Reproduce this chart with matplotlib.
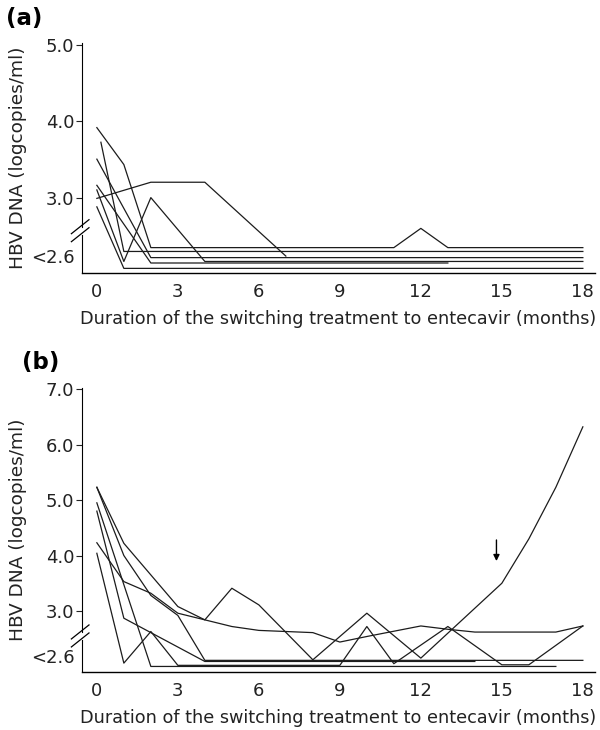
#Plot HBV DNA course after switching to entecavir, panels (a) and (b).
import matplotlib
matplotlib.use("Agg")
import matplotlib.pyplot as plt

# panel (a): months and HBV DNA values for each patient
a_months = [
    [0, 1, 2, 11, 12, 13, 18],
    [0.15, 1, 18],
    [0, 2, 18],
    [0, 2, 13],
    [0, 2, 4, 7],
    [0, 1, 18],
    [0, 1, 2, 4, 18],
]
a_values = [
    [3.92, 3.44, 2.36, 2.36, 2.61, 2.36, 2.36],
    [3.73, 2.31, 2.31],
    [3.51, 2.23, 2.23],
    [3.17, 2.16, 2.16],
    [3.00, 3.21, 3.21, 2.25],
    [2.89, 2.09, 2.09],
    [3.11, 2.18, 3.01, 2.18, 2.18],
]

# panel (b)
b_months = [
    [0, 1, 2, 3, 4, 5, 6, 8, 10, 12, 15, 16, 17, 18],
    [0, 1, 2, 3, 4, 18],
    [0, 2, 17],
    [0, 1, 4, 14],
    [0, 1, 2, 3, 4, 5, 6, 8, 9, 10, 12, 13, 14, 17, 18],
    [0, 1, 2, 3, 9, 10, 11, 13, 15, 16, 18],
]
b_values = [
    [5.23, 4.22, 3.65, 3.08, 2.84, 3.41, 3.11, 2.12, 2.96, 2.15, 3.50, 4.30, 5.23, 6.32],
    [5.23, 4.00, 3.28, 2.92, 2.11, 2.11],
    [4.95, 2.00, 2.00],
    [4.80, 2.87, 2.09, 2.09],
    [4.23, 3.53, 3.32, 2.96, 2.84, 2.72, 2.65, 2.61, 2.44, 2.54, 2.73, 2.67, 2.62, 2.62, 2.73],
    [4.04, 2.06, 2.63, 2.02, 2.02, 2.72, 2.05, 2.72, 2.03, 2.03, 2.73],
]

a_yticks = [2.25, 3.0, 4.0, 5.0]
a_ylabels = ["<2.6", "3.0", "4.0", "5.0"]
b_yticks = [2.18, 3.0, 4.0, 5.0, 6.0, 7.0]
b_ylabels = ["<2.6", "3.0", "4.0", "5.0", "6.0", "7.0"]
x_ticks = [0, 3, 6, 9, 12, 15, 18]

arrow_month = 14.8
arrow_from = 4.28
arrow_to = 3.90

FONT = "DejaVu Sans"
LINE_COLOR = "#1c1c1c"


def draw_panel(ax, months, values, yticks, ylabels, ylim, brk, h_px):
    for x, y in zip(months, values):
        ax.plot(x, y, color=LINE_COLOR, lw=0.9)

    ax.set_xlim(-0.55, 18.45)
    ax.set_ylim(*ylim)
    ax.set_xticks(x_ticks)
    ax.set_yticks(yticks)
    ax.set_yticklabels(ylabels)
    ax.tick_params(axis="x", length=0, pad=7, labelsize=13, colors="#222222")
    ax.tick_params(axis="y", length=4, width=0.8, pad=1.5, labelsize=13, colors="#222222")
    # no tick mark for the "<2.6" level
    ax.yaxis.get_major_ticks()[0].tick1line.set_visible(False)

    for s in ["top", "right"]:
        ax.spines[s].set_visible(False)
    ax.spines["bottom"].set_linewidth(1.0)

    # broken y axis
    ppu = h_px / (ylim[1] - ylim[0])
    gap_hi = brk + 3.5 / ppu
    gap_lo = brk - 4.5 / ppu
    ax.spines["left"].set_bounds(gap_hi, ylim[1])
    ax.spines["left"].set_linewidth(0.8)
    tr = ax.get_yaxis_transform()
    ax.plot([0, 0], [ylim[0], gap_lo], color="black", lw=0.8,
            transform=tr, clip_on=False)
    for off in [4.0, -4.0]:
        yc = brk + off / ppu
        ax.plot([-0.0207, 0.0136], [yc - 7 / ppu, yc + 7 / ppu],
                color="black", lw=0.9, transform=tr, clip_on=False)

    ax.set_xlabel("Duration of the switching treatment to entecavir (months)",
                  fontsize=12.7, labelpad=7, color="#222222")
    ax.set_ylabel("HBV DNA (logcopies/ml)", fontsize=13.3, labelpad=3, color="#222222")


def main():
    plt.rcParams["font.family"] = [FONT]

    fig = plt.figure(figsize=(6, 7.3), dpi=100)
    W, H = 600, 730

    ax1 = fig.add_axes([82 / W, 1 - 273 / H, 513 / W, 230 / H])
    draw_panel(ax1, a_months, a_values, a_yticks, a_ylabels,
               (2.03, 5.02), 2.58, 230)

    ax2 = fig.add_axes([82 / W, 1 - 672 / H, 513 / W, 284 / H])
    draw_panel(ax2, b_months, b_values, b_yticks, b_ylabels,
               (1.90, 7.02), 2.55, 284)

    ax2.annotate("", xy=(arrow_month, arrow_to), xytext=(arrow_month, arrow_from),
                 arrowprops=dict(arrowstyle="-|>", color="black", lw=1.0,
                                 mutation_scale=9, shrinkA=0, shrinkB=0))

    fig.text(6 / W, 1 - 18 / H, "(a)", fontsize=16.5, fontweight="bold", va="center")
    fig.text(22 / W, 1 - 362 / H, "(b)", fontsize=16.5, fontweight="bold", va="center")

    fig.savefig("out.png", dpi=100, facecolor="white")


if __name__ == "__main__":
    main()
